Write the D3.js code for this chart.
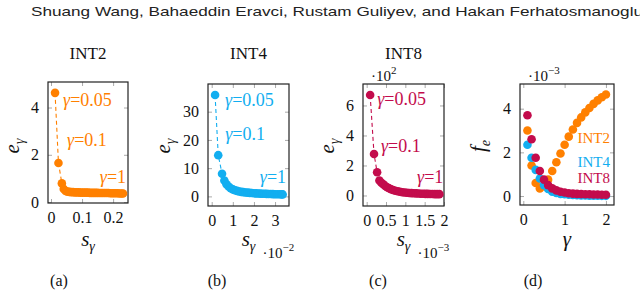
<!DOCTYPE html>
<html>
<head>
<meta charset="utf-8">
<script src="https://cdn.jsdelivr.net/npm/d3@7"></script>
<style>
  body { margin: 0; background: #fff; }
  svg { display: block; }
  svg text { font-family: 'Liberation Serif', 'DejaVu Serif', serif; }
  svg text.c-header { font-family: 'Liberation Sans', 'DejaVu Sans', sans-serif; }
</style>
</head>
<body>
<div id="chart"></div>
<script>
// ---- data ----
const authors = 'Shuang Wang, Bahaeddin Eravci, Rustam Guliyev, and Hakan Ferhatosmanoglu';
const captions = ['(a)', '(b)', '(c)', '(d)'];
const titles = ['INT2', 'INT4', 'INT8'];
const gammaMarks = ['0.05', '0.1', '1'];

// (a) INT2: s_gamma vs e_gamma
const sA = [0.013, 0.024, 0.035, 0.041, 0.047, 0.053, 0.059, 0.065, 0.071, 0.077, 0.083, 0.089,
  0.095, 0.101, 0.107, 0.113, 0.119, 0.125, 0.131, 0.137, 0.143, 0.149, 0.155, 0.161, 0.167,
  0.173, 0.179, 0.185, 0.191, 0.197, 0.203, 0.209, 0.215, 0.221, 0.227, 0.232];
const eA = [4.62, 1.65, 0.79, 0.55, 0.47, 0.44, 0.43, 0.42, 0.42, 0.41, 0.41, 0.41,
  0.4, 0.4, 0.4, 0.4, 0.4, 0.39, 0.39, 0.39, 0.39, 0.39, 0.38, 0.38, 0.38,
  0.38, 0.38, 0.38, 0.37, 0.37, 0.37, 0.37, 0.37, 0.36, 0.36, 0.36];

// (b) INT4: s_gamma (x 1e-2) vs e_gamma
const sB = [0.16, 0.31, 0.49, 0.6, 0.7, 0.8, 0.9, 1.0, 1.1, 1.2, 1.3, 1.4, 1.5, 1.6, 1.7, 1.8,
  1.9, 2.0, 2.1, 2.2, 2.3, 2.4, 2.5, 2.6, 2.7, 2.8, 2.9, 3.0, 3.1, 3.2, 3.3, 3.36];
const eB = [35.9, 14.6, 8.0, 5.6, 4.3, 3.5, 2.9, 2.5, 2.2, 1.95, 1.75, 1.6, 1.5, 1.4, 1.32, 1.25,
  1.18, 1.12, 1.07, 1.02, 0.98, 0.95, 0.92, 0.89, 0.86, 0.83, 0.8, 0.78, 0.76, 0.74, 0.72, 0.7];

// (c) INT8: s_gamma (x 1e-3) vs e_gamma (x 1e2)
const sC = [0.09, 0.19, 0.27, 0.33, 0.38, 0.43, 0.48, 0.53, 0.58, 0.63, 0.68, 0.74, 0.8, 0.86,
  0.92, 0.98, 1.04, 1.1, 1.16, 1.22, 1.28, 1.34, 1.4, 1.46, 1.52, 1.58, 1.64, 1.7, 1.76, 1.82, 1.88];
const eC = [6.7, 2.77, 1.55, 1.0, 0.85, 0.75, 0.63, 0.55, 0.48, 0.42, 0.37, 0.32, 0.28, 0.25,
  0.22, 0.2, 0.18, 0.17, 0.16, 0.15, 0.14, 0.13, 0.12, 0.12, 0.11, 0.11, 0.1, 0.1, 0.09, 0.09, 0.09];

// (d) gamma vs f_e (x 1e-3)
const gammaD = [0.1, 0.2, 0.3, 0.4, 0.5, 0.6, 0.7, 0.8, 0.9, 1.0, 1.1, 1.2, 1.3, 1.4, 1.5, 1.6,
  1.7, 1.8, 1.9, 2.0];
const fInt2 = [3.0, 1.4, 0.6, 0.35, 0.45, 0.75, 1.15, 1.55, 1.95, 2.35, 2.72, 3.05, 3.35, 3.6,
  3.83, 4.03, 4.22, 4.38, 4.52, 4.65];
const fInt4 = [2.35, 1.75, 1.2, 0.8, 0.5, 0.32, 0.2, 0.14, 0.1, 0.08, 0.06, 0.05, 0.04, 0.03,
  0.03, 0.02, 0.02, 0.02, 0.01, 0.01];
const fInt8 = [3.7, 2.6, 1.75, 1.15, 0.75, 0.5, 0.35, 0.26, 0.2, 0.16, 0.13, 0.11, 0.1, 0.09,
  0.08, 0.08, 0.07, 0.07, 0.06, 0.06];

// ticks
const xTicksA = [0, 0.1, 0.2];
const yTicksA = [0, 2, 4];
const xTicksB = [0, 1, 2, 3];
const yTicksB = [0, 10, 20, 30];
const xTicksC = [0, 0.5, 1, 1.5, 2];
const yTicksC = [0, 2, 4, 6];
const xTicksD = [0, 1, 2];
const yTicksD = [0, 2, 4];

const orange = '#ff8000';
const cyan = '#12aef0';
const crimson = '#c30c4c';

// ---- drawing ----
class ScatterPanel {
  constructor (svg, opts) {
    this.opts = opts;
    this.g = svg.append('g').attr('class', 'c-panel');
    let f = opts.frame;
    this.x = d3.scaleLinear().domain(opts.xLim).range([f.left, f.right]);
    this.y = d3.scaleLinear().domain(opts.yLim).range([f.bottom, f.top]);
  }

  render () {
    this.drawTicks();
    this.drawFrame();
    this.drawSeries();
    this.drawLabels();
  }

  drawTicks () {
    let f = this.opts.frame;
    let fmt = d3.format('~g');
    let styleAxis = (sel) => {
      sel.select('.domain').remove();
      sel.attr('font-family', null).attr('font-size', null);
      sel.selectAll('line').attr('stroke', '#aaa').attr('stroke-width', 1);
      sel.selectAll('text').attr('font-size', 16).attr('fill', '#111');
    };

    this.g.append('g')
      .attr('transform', 'translate(0,' + f.bottom + ')')
      .call(d3.axisBottom(this.x).tickValues(this.opts.xTicks).tickFormat(fmt).tickSize(-4).tickPadding(8.6))
      .call(styleAxis);
    this.g.append('g')
      .attr('transform', 'translate(0,' + f.top + ')')
      .call(d3.axisTop(this.x).tickValues(this.opts.xTicks).tickFormat('').tickSize(-4))
      .call(styleAxis);
    this.g.append('g')
      .attr('transform', 'translate(' + f.left + ',0)')
      .call(d3.axisLeft(this.y).tickValues(this.opts.yTicks).tickFormat(fmt).tickSize(-4).tickPadding(9))
      .call(styleAxis);
    this.g.append('g')
      .attr('transform', 'translate(' + f.right + ',0)')
      .call(d3.axisRight(this.y).tickValues(this.opts.yTicks).tickFormat('').tickSize(-4))
      .call(styleAxis);
  }

  drawFrame () {
    let f = this.opts.frame;
    this.g.append('rect')
      .attr('x', f.left)
      .attr('y', f.top)
      .attr('width', f.right - f.left)
      .attr('height', f.bottom - f.top)
      .attr('fill', 'none')
      .attr('stroke', '#222')
      .attr('stroke-width', 1.2);
  }

  drawSeries () {
    this.opts.series.forEach((s) => {
      let pts = s.xs.map((v, i) => [v, s.ys[i]]);
      if (s.dashed) {
        this.g.append('path')
          .datum(pts)
          .attr('fill', 'none')
          .attr('stroke', s.color)
          .attr('stroke-width', 1.1)
          .attr('stroke-dasharray', '4,3')
          .attr('d', d3.line().x((d) => this.x(d[0])).y((d) => this.y(d[1])));
      }
      this.g.append('g')
        .selectAll('circle')
        .data(pts)
        .enter()
        .append('circle')
        .attr('cx', (d) => this.x(d[0]))
        .attr('cy', (d) => this.y(d[1]))
        .attr('r', 4.3)
        .attr('fill', s.color);
    });
  }

  drawLabels () {
    let o = this.opts;
    let f = o.frame;
    let cx = (f.left + f.right) / 2;

    if (o.title) {
      this.g.append('text')
        .attr('x', cx)
        .attr('y', 59)
        .attr('text-anchor', 'middle')
        .attr('font-size', 17)
        .attr('fill', '#111')
        .text(o.title);
    }

    // y axis label, rotated
    let yl = this.g.append('text')
      .attr('transform', 'translate(' + o.yLabelX + ',' + 146 + ') rotate(-90)')
      .attr('text-anchor', 'middle')
      .attr('fill', '#111')
      .attr('font-size', 21);
    yl.append('tspan').attr('font-style', 'italic').text(o.yLabel[0]);
    yl.append('tspan').attr('font-style', 'italic').attr('font-size', 14).attr('dy', 5).text(o.yLabel[1]);

    // x axis label
    let xl = this.g.append('text')
      .attr('x', cx)
      .attr('y', 246)
      .attr('text-anchor', 'middle')
      .attr('fill', '#111')
      .attr('font-size', 21);
    xl.append('tspan').attr('font-style', 'italic').text(o.xLabel[0]);
    if (o.xLabel[1]) {
      xl.append('tspan').attr('font-style', 'italic').attr('font-size', 14).attr('dy', 5).text(o.xLabel[1]);
    }

    if (o.xScaleNote) {
      let t = this.g.append('text')
        .attr('x', cx + 14)
        .attr('y', 258)
        .attr('font-size', 15)
        .attr('fill', '#111');
      t.append('tspan').text('\u00b710');
      t.append('tspan').attr('font-size', 11).attr('dy', -7).text(o.xScaleNote);
    }
    if (o.yScaleNote) {
      let t = this.g.append('text')
        .attr('x', f.left + 8)
        .attr('y', f.top - 3)
        .attr('font-size', 15)
        .attr('fill', '#111');
      t.append('tspan').text('\u00b710');
      t.append('tspan').attr('font-size', 11).attr('dy', -7).text(o.yScaleNote);
    }

    // gamma annotations anchored to data points
    (o.marks || []).forEach((m) => {
      let s = o.series[0];
      let px = this.x(s.xs[m.index]) + m.dx;
      let py = this.y(s.ys[m.index]) + m.dy;
      let t = this.g.append('text')
        .attr('x', px)
        .attr('y', py)
        .attr('text-anchor', m.anchor || 'start')
        .attr('font-size', 18)
        .attr('fill', s.color);
      t.append('tspan').attr('font-style', 'italic').text('\u03b3');
      t.append('tspan').text('=' + m.text);
    });

    // series names (panel d)
    (o.names || []).forEach((n) => {
      this.g.append('text')
        .attr('x', f.right - 4)
        .attr('y', this.y(n.at))
        .attr('text-anchor', 'end')
        .attr('font-size', 15)
        .attr('fill', n.color)
        .text(n.text);
    });

    this.g.append('text')
      .attr('x', o.captionX)
      .attr('y', 286)
      .attr('text-anchor', 'middle')
      .attr('font-size', 16)
      .attr('fill', '#111')
      .text(o.caption);
  }
}

const svg = d3.select('#chart')
  .append('svg')
  .attr('width', 640)
  .attr('height', 291);

svg.append('text')
  .attr('class', 'c-header')
  .attr('x', 31)
  .attr('y', 16)
  .attr('font-size', 13.5)
  .attr('fill', '#222')
  .attr('textLength', 612)
  .attr('lengthAdjust', 'spacingAndGlyphs')
  .text(authors);

const panels = [
  {
    frame: {left: 48, top: 82, right: 128, bottom: 203},
    xLim: [-0.0097, 0.248], yLim: [-0.04, 5.08],
    xTicks: xTicksA, yTicks: yTicksA,
    title: titles[0], caption: captions[0], captionX: 59,
    yLabel: ['e', '\u03b3'], yLabelX: 19, xLabel: ['s', '\u03b3'],
    series: [{xs: sA, ys: eA, color: orange, dashed: true}],
    marks: [
      {index: 0, text: gammaMarks[0], dx: 8, dy: 13},
      {index: 1, text: gammaMarks[1], dx: 8.6, dy: -17},
      {index: sA.length - 1, text: gammaMarks[2], dx: 3, dy: -11, anchor: 'end'}
    ]
  },
  {
    frame: {left: 208, top: 84, right: 289, bottom: 206},
    xLim: [-0.175, 3.66], yLim: [-3.4, 39.8],
    xTicks: xTicksB, yTicks: yTicksB,
    title: titles[1], caption: captions[1], captionX: 217,
    yLabel: ['e', '\u03b3'], yLabelX: 170, xLabel: ['s', '\u03b3'], xScaleNote: '\u22122',
    series: [{xs: sB, ys: eB, color: cyan, dashed: true}],
    marks: [
      {index: 0, text: gammaMarks[0], dx: 10, dy: 11},
      {index: 1, text: gammaMarks[1], dx: 7, dy: -15},
      {index: sB.length - 1, text: gammaMarks[2], dx: 3.4, dy: -11.6, anchor: 'end'}
    ]
  },
  {
    frame: {left: 363, top: 84, right: 444, bottom: 206},
    xLim: [-0.095, 2.0], yLim: [-0.7, 7.43],
    xTicks: xTicksC, yTicks: yTicksC,
    title: titles[2], caption: captions[2], captionX: 378,
    yLabel: ['e', '\u03b3'], yLabelX: 334, xLabel: ['s', '\u03b3'], xScaleNote: '\u22123', yScaleNote: '2',
    series: [{xs: sC, ys: eC, color: crimson, dashed: true}],
    marks: [
      {index: 0, text: gammaMarks[0], dx: 7, dy: 10},
      {index: 1, text: gammaMarks[1], dx: 7, dy: -2},
      {index: sC.length - 1, text: gammaMarks[2], dx: 4, dy: -11.4, anchor: 'end'}
    ]
  },
  {
    frame: {left: 520, top: 84, right: 614, bottom: 205},
    xLim: [-0.08, 2.195], yLim: [-0.41, 5.13],
    xTicks: xTicksD, yTicks: yTicksD,
    caption: captions[3], captionX: 533,
    yLabel: ['f', 'e'], yLabelX: 485, xLabel: ['\u03b3'], yScaleNote: '\u22123',
    series: [
      {xs: gammaD, ys: fInt2, color: orange},
      {xs: gammaD, ys: fInt4, color: cyan},
      {xs: gammaD, ys: fInt8, color: crimson}
    ],
    names: [
      {text: titles[0], color: orange, at: 2.41},
      {text: titles[1], color: cyan, at: 1.33},
      {text: titles[2], color: crimson, at: 0.58}
    ]
  }
];

panels.forEach((p) => new ScatterPanel(svg, p).render());
</script>
</body>
</html>
